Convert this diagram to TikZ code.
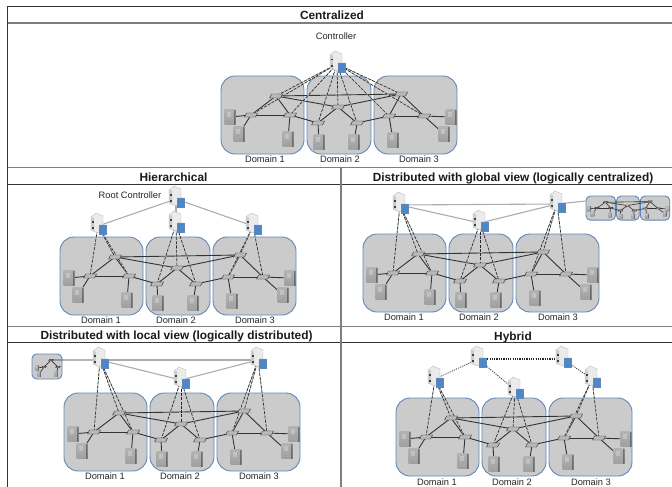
\documentclass[tikz,border=0pt]{standalone}
\usepackage{fontspec}
\setmainfont{Liberation Sans}
\usetikzlibrary{shapes.geometric}
\definecolor{domfill}{HTML}{CBCBCB}
\definecolor{domedge}{HTML}{5F87B8}
\definecolor{dbblue}{HTML}{4F86C6}
\definecolor{rule}{HTML}{333333}
\definecolor{rulelt}{HTML}{7E7E7E}
\pgfdeclarelayer{bg}\pgfdeclarelayer{lk}\pgfsetlayers{bg,lk,main}
\tikzset{
 frameline/.style={draw=rule,line width=.9pt},
 framelt/.style={draw=rulelt,line width=1.7pt},
 head/.style={font=\bfseries\fontsize{11.85}{13}\selectfont,text=black!90,inner sep=0pt,anchor=base},
 lab/.style={font=\fontsize{9.3}{11}\selectfont,text=black!85,inner sep=0pt,anchor=base},
 dom/.style={draw=domedge,fill=domfill,line width=.9pt},
 srv/.style={transform shape,inner sep=0pt,minimum width=11pt,minimum height=15pt,top color=gray!60,bottom color=gray!75,
   path picture={\fill[black,opacity=.35] (path picture bounding box.north east) rectangle ([xshift=-2pt]path picture bounding box.south east);
    \fill[white,opacity=.25] ([xshift=2pt,yshift=-2pt]path picture bounding box.north west) rectangle ++(4pt,-5pt);}},
 swt/.style={transform shape,inner sep=0pt,minimum width=11pt,minimum height=4pt,xslant=.5,fill=gray!55,draw=black!80,line width=.45pt},
 ctl/.style={inner sep=0pt,minimum width=12pt,minimum height=18pt},
 ctlbody/.style={fill=gray!16,draw=gray!55,line width=.35pt},
 ctlside/.style={fill=gray!40},
 ctlmark/.style={fill=black!75},
 dbn/.style={shape=cylinder,shape border rotate=90,aspect=.5,inner sep=0pt,minimum width=7pt,minimum height=9pt,fill=dbblue,draw=domedge,line width=.3pt},
 swl/.style={draw=black!80,line cap=round},
 ctlk/.style={draw=black!85,line width=.65pt,dash pattern=on 3pt off 1.3pt,preaction={draw=gray!45,solid,line width=.9pt}},
 peer/.style={draw=gray!65,line width=1.1pt},
 dots/.style={draw=black!85,dash pattern=on 1.2pt off 1.1pt},
}
% #1 prefix, #2 x, #3 y, #4 xscale, #5 yscale, #6 line width, #7 corner radius
\newcommand{\netbody}[7]{%
\begin{scope}[shift={(#2,#3)},xscale=#4,yscale=#5]
 \begin{pgfonlayer}{bg}
  \draw[dom,rounded corners=#7] (0,0) rectangle (83,78);
  \draw[dom,rounded corners=#7] (86,0) rectangle (150,78);
  \draw[dom,rounded corners=#7] (153,0) rectangle (236,78);
 \end{pgfonlayer}
 \foreach \n/\a/\b in {tl/55/20,mid/117/31,tr/180/18,l1/30/39,l2/69/39,m1/97/47,m2/136/47,r1/168/40,r2/203/40}
   \node[swt] (#1\n) at (\a,\b) {};
 \foreach \n/\a/\b in {s1/9/41,s2/18/58,s3/67/63,s4/98/66,s5/133/66,s6/172/64,s7/223/58,s8/230/41}
   \node[srv] (#1\n) at (\a,\b) {};
 \begin{pgfonlayer}{lk}
 \foreach \a/\b in {tl/tr,tl/mid,tr/mid,tl/l1,tl/l2,tr/r1,tr/r2,mid/m1,mid/m2,l1/l2,l2/m1,m2/r1,r1/r2,l1/s1,l1/s2,l2/s3,m1/s4,m2/s5,r1/s6,r2/s7,r2/s8}
   \draw[swl,line width=#6] (#1\a.center) -- (#1\b.center);
 \end{pgfonlayer}
\end{scope}}
\newcommand{\netlabels}[3]{%
 \node[lab] (#1d1) at ({#2+41},{#3+86}) {Domain 1};
 \node[lab] (#1d2) at ({#2+116},{#3+86}) {Domain 2};
 \node[lab] (#1d3) at ({#2+195},{#3+86}) {Domain 3};}
\newcommand{\ctrlnode}[3]{%
 \node[ctl] (#1) at (#2,#3) {};
 \begin{scope}[shift={(#2,#3)}]
 \fill[ctlbody] (-7,-9) -- (-2,-13) -- (5,-10) -- (5,4) -- (0,7) -- (-7,4) -- cycle;
 \fill[ctlside] (-7,-9) -- (-4,-8.5) -- (-4,5.5) -- (0,7) -- (-7,4) -- cycle;
 \fill[ctlmark] (-6,-5) rectangle (-4,-3.5);
 \fill[ctlmark] (-6,1) rectangle (-4,3);
 \end{scope}
 \node[dbn] (#1db) at ({#2+4.5},{#3+3.5}) {};}
\newcommand{\ctrllinks}[2]{%
 \begin{pgfonlayer}{lk}
 \foreach \t in {#2} \draw[ctlk] (#1.center) -- (\t.center);
 \end{pgfonlayer}}
\begin{document}
\begin{tikzpicture}[x=1pt,y=-1pt]
\useasboundingbox (0,0) rectangle (672,487);
% frame
\draw[frameline] (7,6.5) -- (672,6.5);
\draw[framelt] (7,23) -- (672,23);
\draw[framelt] (7,167.5) -- (672,167.5);
\draw[frameline] (7,184.5) -- (672,184.5);
\draw[framelt] (7,326.5) -- (672,326.5);
\draw[frameline] (7,342) -- (672,342);
\draw[frameline] (7,6.5) -- (7,487);
\draw[framelt] (341,167.5) -- (341,487);
\node[head] (h1) at (332,20) {Centralized};
\node[head] (h2) at (173.5,181.5) {Hierarchical};
\node[head] (h3) at (513,181.5) {Distributed with global view (logically centralized)};
\node[head] (h4) at (176.5,339) {Distributed with local view (logically distributed)};
\node[head] (h5) at (513,340) {Hybrid};
% centralized
\netbody{a}{221}{76}{1}{1}{.9pt}{14pt}
\netlabels{a}{224}{76}
\node[lab] (actrl) at (336,40) {Controller};
\ctrlnode{ac}{337}{64}
\ctrllinks{ac}{atl,al1,al2,amid,am1,am2,ar1,ar2,atr}
% hierarchical
\netbody{b}{60}{237}{1}{1}{.9pt}{14pt}
\netlabels{b}{60}{237}
\node[lab] (brt) at (130,198) {Root Controller};
\ctrlnode{br}{176}{199}
\ctrlnode{bc1}{98}{226}
\ctrlnode{bc2}{176}{224}
\ctrlnode{bc3}{253}{226}
\begin{pgfonlayer}{lk}
\foreach \t in {bc1,bc2,bc3} \draw[peer] (br.center) -- (\t.center);
\end{pgfonlayer}
\ctrllinks{bc1}{bl1,btl,bl2}
\ctrllinks{bc2}{bm1,bmid,bm2}
\ctrllinks{bc3}{br1,btr,br2}
% global
\netbody{c}{363}{234}{1}{1}{.9pt}{14pt}
\netlabels{c}{363}{234}
\ctrlnode{cc1}{400}{205}
\ctrlnode{cc2}{480}{223}
\ctrlnode{cc3}{557}{204}
\begin{pgfonlayer}{lk}
\draw[peer] (cc1.center) -- (cc2.center);
\draw[peer] (cc1.center) -- (cc3.center);
\draw[peer] (cc2.center) -- (cc3.center);
\coordinate (cmini) at (586,201);
\draw[peer] (cc3.center) -- (cmini);
\end{pgfonlayer}
\ctrllinks{cc1}{cl1,ctl,cl2}
\ctrllinks{cc2}{cm1,cmid,cm2}
\ctrllinks{cc3}{cr1,ctr,cr2}
\netbody{m}{586}{196}{.355}{.31}{.6pt}{4.5pt}
% local
\netbody{d}{64}{393}{1}{1}{.9pt}{14pt}
\netlabels{d}{64}{393}
\ctrlnode{dc1}{100}{360}
\ctrlnode{dc2}{181}{380}
\ctrlnode{dc3}{258}{360}
\begin{pgfonlayer}{lk}
\draw[peer] (dc1.center) -- (dc2.center);
\draw[peer] (dc1.center) -- (dc3.center);
\draw[peer] (dc2.center) -- (dc3.center);
\end{pgfonlayer}
\ctrllinks{dc1}{dl1,dtl,dl2}
\ctrllinks{dc2}{dm1,dmid,dm2}
\ctrllinks{dc3}{dr1,dtr,dr2}
% local mini
\begin{pgfonlayer}{bg}
\draw[dom,rounded corners=4.5pt] (32,354) rectangle (62,379);
\end{pgfonlayer}
\begin{scope}[scale=.35]
\node[swt] (nh) at ({51/.35},{360/.35}) {};
\node[swt] (nl) at ({44/.35},{367/.35}) {};
\node[swt] (nr) at ({58/.35},{367/.35}) {};
\node[srv] (ns1) at ({37/.35},{368/.35}) {};
\node[srv] (ns2) at ({39/.35},{374/.35}) {};
\node[srv] (ns3) at ({56/.35},{374/.35}) {};
\end{scope}
\begin{pgfonlayer}{lk}
\foreach \a/\b in {nh/nl,nh/nr,nl/ns1,nl/ns2,nr/ns3}
  \draw[swl,line width=.7pt] (\a.center) -- (\b.center);
\draw[swl,line width=.9pt] (nh.center) -- (dc1.center);
\end{pgfonlayer}
% hybrid
\netbody{e}{396}{398}{1}{1}{.9pt}{14pt}
\netlabels{e}{396}{399}
\ctrlnode{et1}{478}{359}
\ctrlnode{et2}{563}{359}
\ctrlnode{ec1}{435}{379}
\ctrlnode{ec2}{515}{390}
\ctrlnode{ec3}{592}{379}
\begin{pgfonlayer}{lk}
\draw[dots,line width=.7pt] (ec1.center) -- (et1.center);
\draw[dots,line width=.7pt] (et1.center) -- (ec2.center);
\draw[dots,line width=.7pt] (et2.center) -- (ec3.center);
\draw[dots,line width=1.1pt] (et1.center) -- (et2.center);
\end{pgfonlayer}
\ctrllinks{ec1}{el1,etl,el2}
\ctrllinks{ec2}{em1,emid,em2}
\ctrllinks{ec3}{er1,etr,er2}
\end{tikzpicture}
\end{document}
